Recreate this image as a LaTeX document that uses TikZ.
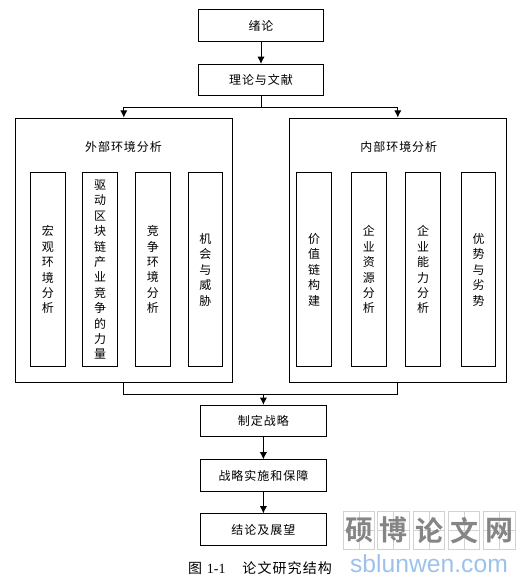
\documentclass[tikz,border=0pt]{standalone}
\usepackage{fontspec}
\usepackage{xcolor}
\setmainfont{Noto Sans CJK SC}[LetterSpace=8]
\newfontfamily\stampfont{Noto Sans CJK SC Bold}
\newfontfamily\urlfont{Liberation Sans}
\newfontfamily\numfont{Liberation Serif}
\usetikzlibrary{arrows.meta,positioning,calc}
\definecolor{stampgray}{HTML}{858585}
\definecolor{stampline}{HTML}{D2D2D2}
\definecolor{stampblue}{HTML}{9CC2EC}
\tikzset{
  flow/.style={-{Latex[length=1.9mm,width=1.9mm]}, line width=0.7pt},
  link/.style={line width=0.7pt},
  stagebox/.style={draw, line width=0.7pt, minimum width=94pt, minimum height=23.5pt, inner sep=0pt},
  panelbox/.style={draw, line width=0.7pt, minimum width=163.2pt, minimum height=198.4pt, inner sep=0pt},
  factorbox/.style={draw, line width=0.7pt, minimum width=26pt, minimum height=145.5pt, inner sep=0pt, align=center, font=\fontsize{9}{11.55}\selectfont},
}
\begin{document}
\begin{tikzpicture}[x=0.75pt, y=-0.75pt, font=\fontsize{9}{11.7}\selectfont]
\useasboundingbox (0,0) rectangle (532,583);
% stages above the panels
\node[stagebox] (intro) at (261,25.5) {绪论};
\node[stagebox] (theory) at (261,80) {理论与文献};
% two analysis panels
\node[panelbox] (external) at (123.8,250.3) {};
\node[panelbox] (internal) at (397.8,250.3) {};
\node (exthead) at (123.5,146.5) {外部环境分析};
\node (inthead) at (398.8,146.5) {内部环境分析};
% factor columns, left panel
\node[factorbox] (macro) at (47.85,269.7) {宏\\观\\环\\境\\分\\析};
\node[factorbox] (driver) at (100.2,269.7) {驱\\动\\区\\块\\链\\产\\业\\竞\\争\\的\\力\\量};
\node[factorbox] (compete) at (152.75,269.7) {竞\\争\\环\\境\\分\\析};
\node[factorbox] (threat) at (205.35,269.7) {机\\会\\与\\威\\胁};
% factor columns, right panel
\node[factorbox] (chain) at (314,269.7) {价\\值\\链\\构\\建};
\node[factorbox] (resource) at (368.85,269.7) {企\\业\\资\\源\\分\\析};
\node[factorbox] (ability) at (423.2,269.7) {企\\业\\能\\力\\分\\析};
\node[factorbox] (swot) at (478.5,269.7) {优\\势\\与\\劣\\势};
% stages below the panels
\node[stagebox] (strategy) at (263.4,421) {制定战略};
\node[stagebox] (execute) at (263.4,475.5) {战略实施和保障};
\node[stagebox] (outlook) at (263.4,529.5) {结论及展望};
\node[font=\fontsize{10.5}{12}\selectfont] (caption) at (260,568) {图\hspace{0.35em}{\numfont 1-1}\hspace{1.2em}论文研究结构};
% connectors
\coordinate (split) at (261,107);
\coordinate (merge) at (263.4,394);
\draw[flow] (intro) -- (theory);
\draw[link] (theory) -- (split);
\draw[flow] (split) -| (external.north);
\draw[flow] (split) -| (internal.north);
\draw[link] (external.south) |- (merge);
\draw[link] (internal.south) |- (merge);
\draw[flow] (merge) -- (strategy.north);
\draw[flow] (strategy) -- (execute);
\draw[flow] (execute) -- (outlook);
% site stamp
\foreach \tilex/\glyph in {359/硕,393.5/博,429/论,464/文,499.5/网} {
  \draw[stampline, line width=0.5pt] (\tilex-15.7,511.7) rectangle (\tilex+15.7,549);
  \draw[stampline, line width=0.4pt] (\tilex,511.7) -- (\tilex,549) (\tilex-15.7,530.3) -- (\tilex+15.7,530.3);
  \node[stampgray, font=\stampfont\fontsize{21}{21}\selectfont] at (\tilex,530.3) {\glyph};
}
\node[stampblue, font=\urlfont\fontsize{18.5}{20}\selectfont] (stampurl) at (429,564) {sblunwen.com};
\end{tikzpicture}
\end{document}
